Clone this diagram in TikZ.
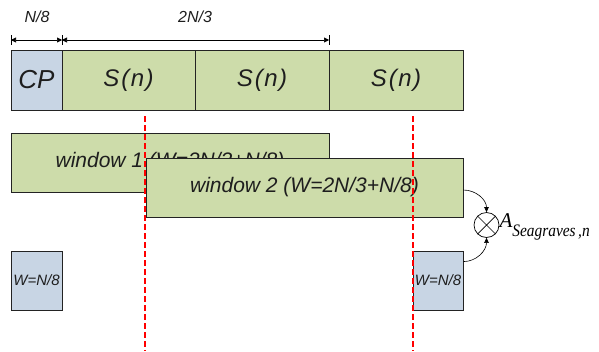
\documentclass[tikz,border=0pt]{standalone}
\usepackage{fontspec}
\setmainfont{Liberation Sans}
\newfontfamily\timesfont{Liberation Serif}
\usetikzlibrary{arrows.meta,calc}
\definecolor{grn}{RGB}{205,220,170}
\definecolor{blu}{RGB}{200,213,228}
\definecolor{edge}{RGB}{35,35,35}
\definecolor{txt}{RGB}{30,30,30}
\newcommand{\sn}{S\kern2pt(\kern1.5pt n\kern1.5pt)}
\tikzset{
  box/.style={draw=edge, line width=0.8pt, inner sep=0pt, text=txt, font=\itshape},
  gbox/.style={box, fill=grn},
  bbox/.style={box, fill=blu},
  redline/.style={draw=red, line width=1.5pt, dash pattern=on 6pt off 3pt},
  dimarrow/.style={line width=0.6pt, {Triangle[length=5pt,width=5pt]}-{Triangle[length=5pt,width=5pt]}},
  tick/.style={line width=0.6pt},
  conn/.style={line width=0.6pt, -{Triangle[length=5pt,width=4.5pt]}},
  lbl/.style={inner sep=0pt, text=txt, font=\fontsize{16}{16}\selectfont\itshape}
}
\begin{document}
\begin{tikzpicture}[x=1pt,y=-1pt]
\useasboundingbox (0,0) rectangle (599,351);
% top row
\node[bbox, minimum width=51pt, minimum height=60pt, font=\fontsize{26}{26}\selectfont\itshape] (cp) at (36.5,80) {CP};
\node[gbox, minimum width=133pt, minimum height=60pt, font=\fontsize{24}{24}\selectfont\itshape] (s1) at (128.5,80) {\sn};
\node[gbox, minimum width=134pt, minimum height=60pt, font=\fontsize{24}{24}\selectfont\itshape] (s2) at (262,80) {\sn};
\node[gbox, minimum width=134pt, minimum height=60pt, font=\fontsize{24}{24}\selectfont\itshape] (s3) at (396,80) {\sn};
% dimension marks
\coordinate (t0) at (11,40);
\coordinate (t1) at (62,40);
\coordinate (t2) at (329,40);
\draw[tick] ($(t0)+(0,-5)$) -- ($(t0)+(0,5)$);
\draw[tick] ($(t1)+(0,-5)$) -- ($(t1)+(0,5)$);
\draw[tick] ($(t2)+(0,-5)$) -- ($(t2)+(0,5)$);
\draw[dimarrow] (t0) -- (t1);
\draw[dimarrow] (t1) -- (t2);
\node[lbl] (n8) at (37,17) {N/8};
\node[lbl] (n23) at (195,17) {2N/3};
% windows
\node[gbox, minimum width=318pt, minimum height=59pt, font=\fontsize{21}{21}\selectfont\itshape] (w1) at (170,162.5) {window 1 (W=2N/3+N/8)};
\node[gbox, minimum width=317pt, minimum height=59pt, font=\fontsize{21}{21}\selectfont\itshape] (w2) at (304.5,187.5) {window 2 (W=2N/3+N/8)};
% small boxes
\node[bbox, minimum width=51pt, minimum height=59pt, font=\fontsize{15}{15}\selectfont\itshape] (b1) at (36.5,280.5) {W=N/8};
\node[bbox, minimum width=50pt, minimum height=59pt, font=\fontsize{15}{15}\selectfont\itshape] (b2) at (438,280.5) {W=N/8};
% red dashed lines
\coordinate (r1a) at (145,116);
\coordinate (r1b) at (145,351);
\coordinate (r2a) at (413,116);
\coordinate (r2b) at (413,351);
\draw[redline] (r1a) -- (r1b);
\draw[redline] (r2a) -- (r2b);
% multiplier
\node[draw=black, line width=0.7pt, circle, minimum size=25pt, inner sep=0pt] (m) at (486.5,225) {};
\draw[line width=0.7pt] (m.45) -- (m.225) (m.135) -- (m.315);
\node[anchor=west, inner sep=0pt, font=\timesfont] (a) at ($(m.east)+(0,2)$) {{\fontsize{21}{21}\selectfont\itshape A}\raisebox{-9pt}{\scalebox{0.88}[1]{\fontsize{17.5}{17.5}\selectfont\itshape Seagraves\,,n}}};
% connectors
\draw[conn] ($(w2.east)+(0,2.5)$) to[out=0,in=90] (m.north);
\draw[conn] ($(b2.north east)+(0,11)$) to[out=0,in=-90] (m.south);
\end{tikzpicture}
\end{document}
